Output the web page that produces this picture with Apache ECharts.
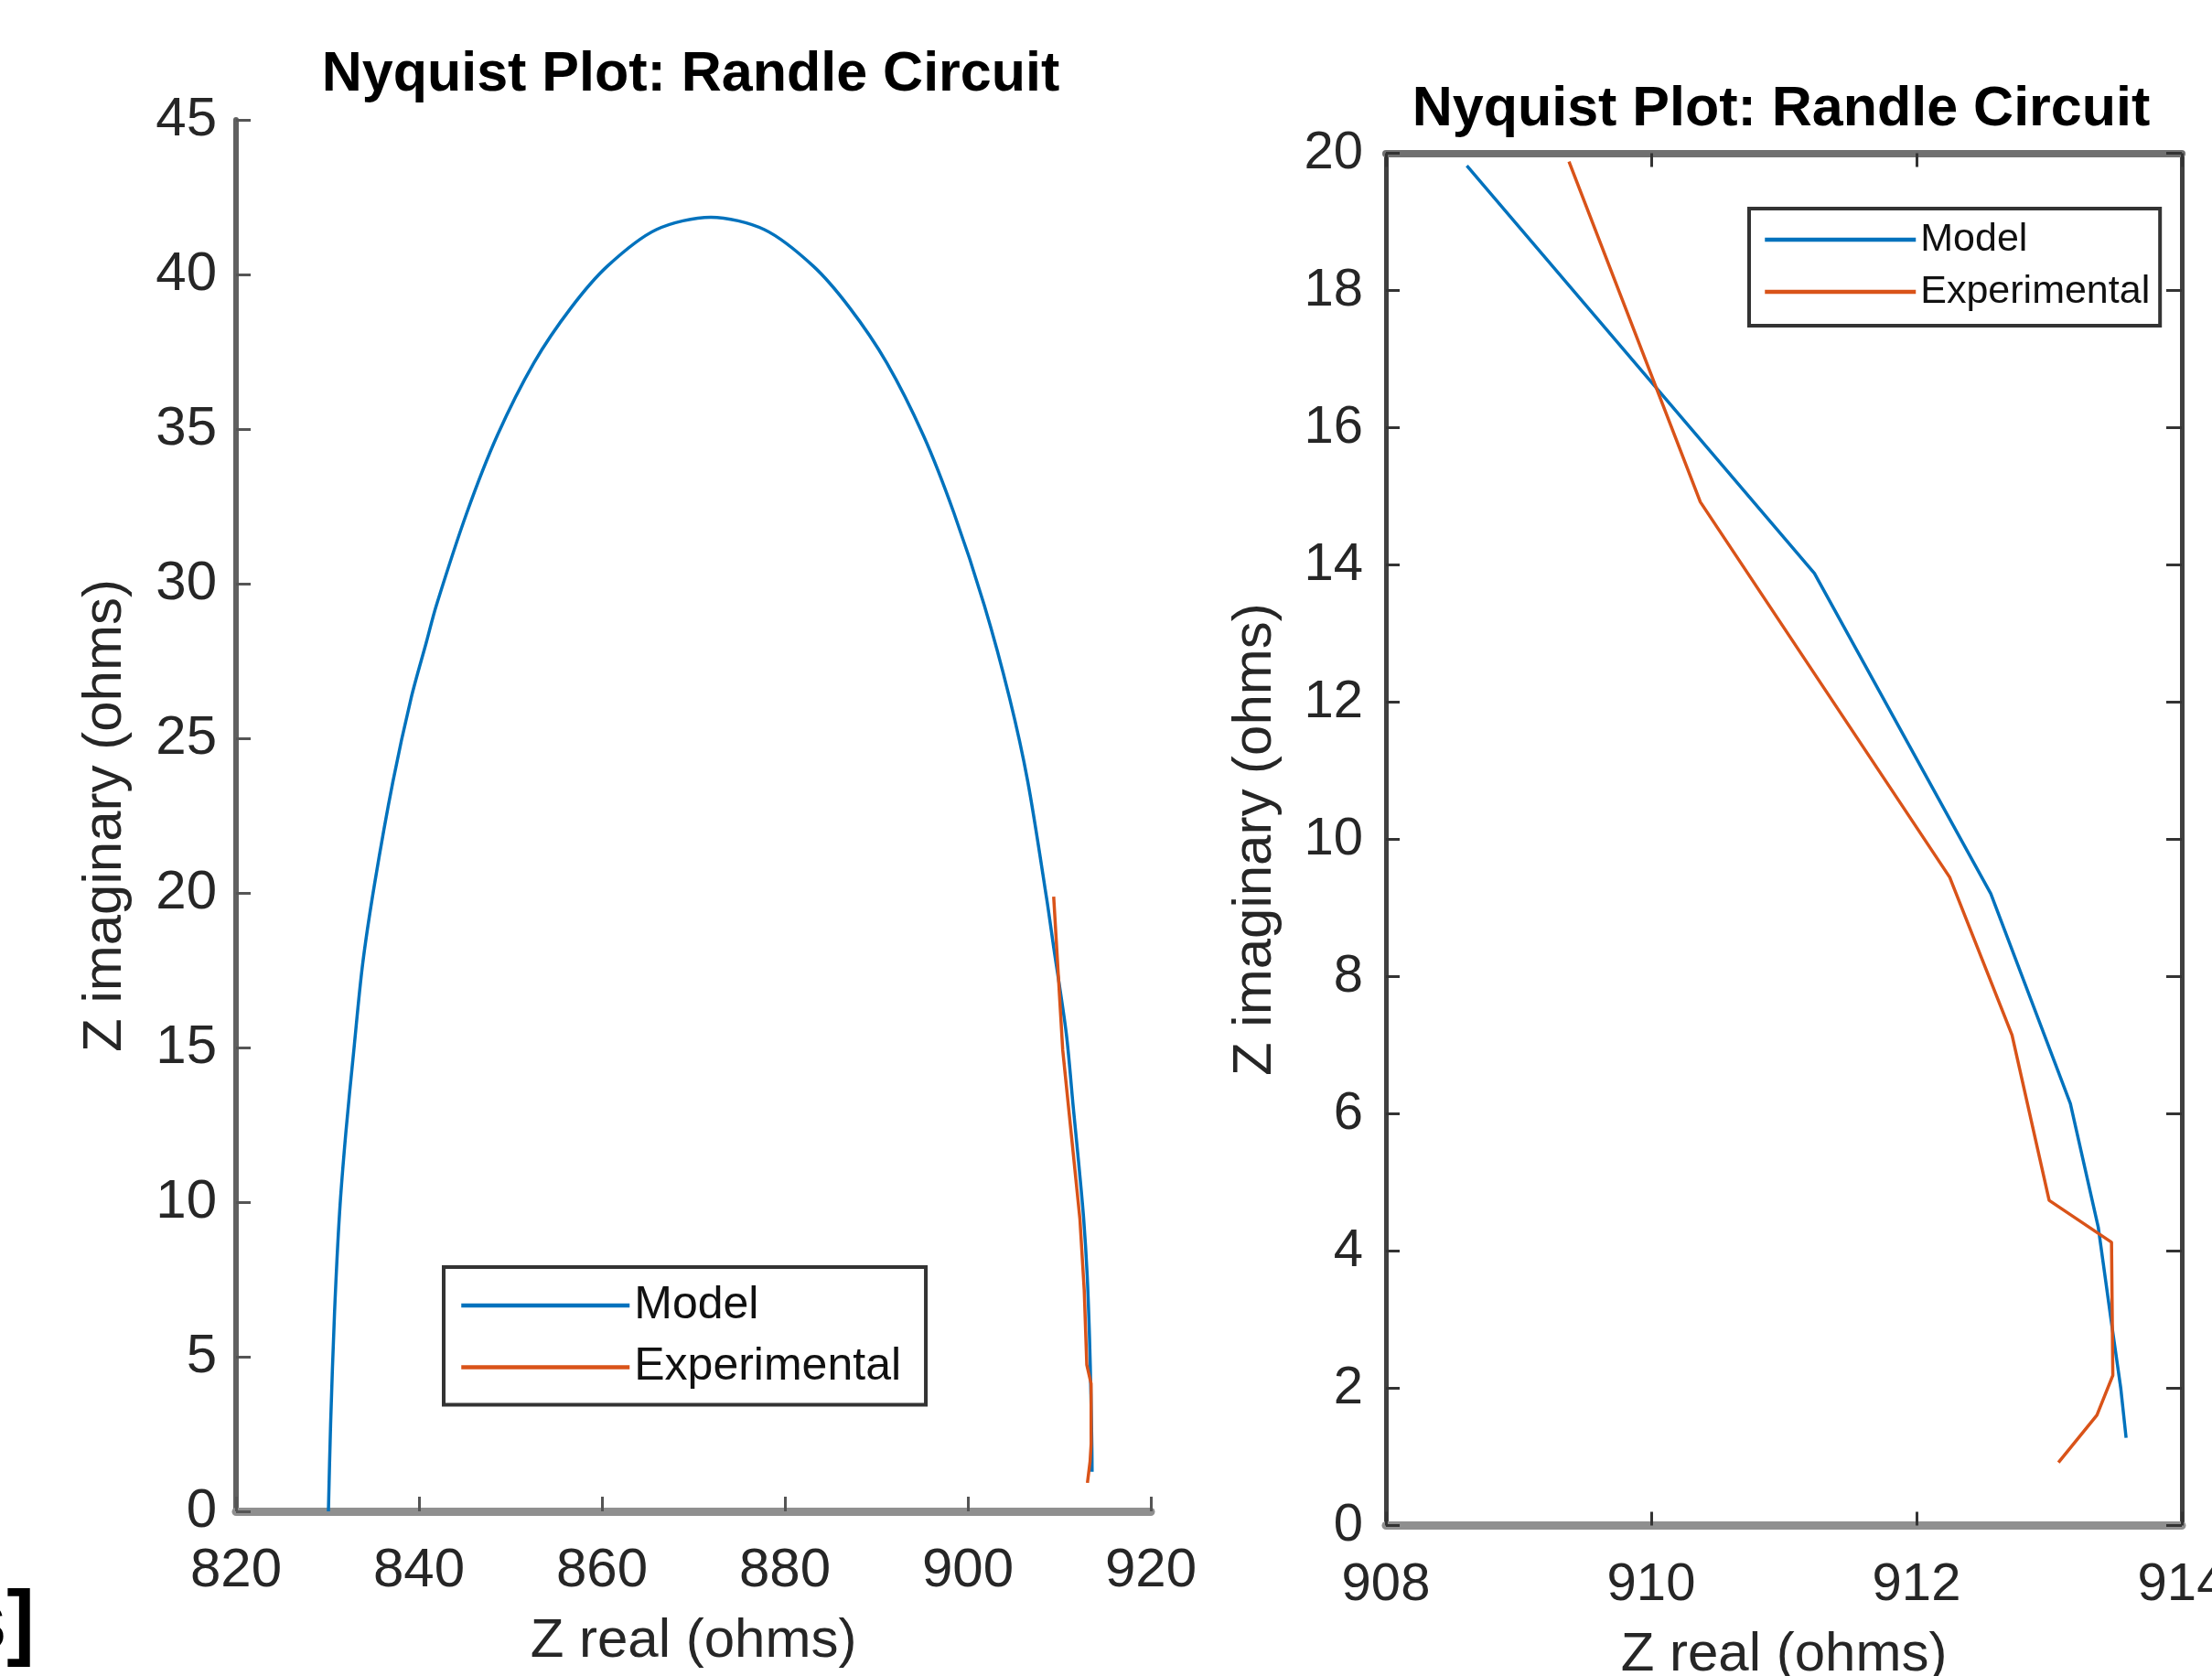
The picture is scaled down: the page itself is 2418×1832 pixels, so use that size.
<!DOCTYPE html>
<html>
<head>
<meta charset="utf-8">
<script src="https://cdn.jsdelivr.net/npm/echarts@6/dist/echarts.min.js"></script>
<style>
html,body{margin:0;padding:0;background:#fff;}
#chart{width:2418px;height:1832px;}
</style>
</head>
<body>
<div id="chart"></div>
<script>
// ---- Data ----
const titleText = 'Nyquist Plot: Randle Circuit';
const xName = 'Z real (ohms)';
const yName = 'Z imaginary (ohms)';
const seriesNames = ['Model', 'Experimental'];

// Left panel: full model semicircle
const modelRe = [830.10, 830.34, 830.77, 831.33, 832.00, 832.83, 833.83, 835.15, 837.15, 839.14,
  840.80, 841.90, 845.24, 848.57, 852.58, 856.59, 860.60, 865.94, 871.90, 877.76,
  883.10, 887.11, 891.12, 895.13, 898.46, 901.80, 904.56, 906.55, 908.61,
  909.40, 910.76, 911.53, 912.09, 912.65, 913.04, 913.30, 913.45, 913.55, 913.58];
const modelIm = [0.00, 2.81, 6.43, 9.70, 12.23, 14.77, 17.67, 20.30, 23.60, 26.30,
  28.10, 29.30, 32.30, 34.80, 37.15, 38.91, 40.27, 41.45, 41.85, 41.45,
  40.27, 38.91, 37.15, 34.80, 32.30, 29.30, 26.30, 23.60, 19.82,
  18.20, 15.45, 13.04, 11.34, 9.50, 7.66, 5.60, 3.80, 2.20, 1.28];

// Right panel: model points in the zoomed window
const zoomModelRe = [908.61, 911.23, 912.56, 913.16, 913.37, 913.47, 913.54, 913.58];
const zoomModelIm = [19.82, 13.88, 9.21, 6.15, 4.35, 2.95, 2.00, 1.28];

// Experimental data (both panels)
const expRe = [909.38, 910.37, 912.25, 912.72, 913.00, 913.47, 913.48, 913.36, 913.07];
const expIm = [19.88, 14.92, 9.45, 7.15, 4.74, 4.13, 2.19, 1.61, 0.92];

// Axis ranges / ticks
const leftX = {min: 820, max: 920, interval: 20};
const leftY = {min: 0, max: 45, interval: 5};
const rightX = {min: 908, max: 914, interval: 2};
const rightY = {min: 0, max: 20, interval: 2};

// ---- Chart ----
const zip = (a, b) => a.map((v, i) => [v, b[i]]);
const FONT = '"Liberation Sans", Arial, Helvetica, sans-serif';
const BLUE = '#0072BD';
const ORANGE = '#D95319';
const TXT = '#262626';

function xAxisCfg(grid, rng, opts) {
  return Object.assign({
    gridIndex: grid, type: 'value', min: rng.min, max: rng.max, interval: rng.interval,
    position: 'bottom',
    axisLine: {show: true, onZero: false, lineStyle: {color: '#8f8f8f', width: 9}},
    axisTick: {show: true, inside: true, length: 16, lineStyle: {color: '#555', width: 3}},
    axisLabel: {show: true, margin: 35, fontSize: 60, color: TXT, fontFamily: FONT},
    splitLine: {show: false}
  }, opts);
}
function yAxisCfg(grid, rng, opts) {
  return Object.assign({
    gridIndex: grid, type: 'value', min: rng.min, max: rng.max, interval: rng.interval,
    position: 'left',
    axisLine: {show: true, onZero: false, lineStyle: {color: '#606060', width: 6}},
    axisTick: {show: true, inside: true, length: 16, lineStyle: {color: '#555', width: 3}},
    axisLabel: {show: true, margin: 21, fontSize: 60, color: TXT, fontFamily: FONT},
    splitLine: {show: false}
  }, opts);
}
const nameStyle = {fontSize: 60, color: TXT, fontFamily: FONT};
const legendCommon = {
  orient: 'vertical', selectedMode: false, data: seriesNames,
  backgroundColor: '#fff', borderColor: '#333', borderWidth: 4, borderRadius: 0,
  itemStyle: {opacity: 0, borderWidth: 0},
  lineStyle: {width: 4.5}
};

const chart = echarts.init(document.getElementById('chart'), null, {renderer: 'canvas'});
const option = {
  animation: false,
  backgroundColor: '#ffffff',
  title: [
    {text: titleText, left: 755, top: 82, textAlign: 'center', textVerticalAlign: 'middle', padding: 0,
     textStyle: {fontFamily: FONT, fontSize: 61, fontWeight: 'bold', color: '#000'}},
    {text: titleText, left: 1947, top: 120, textAlign: 'center', textVerticalAlign: 'middle', padding: 0,
     textStyle: {fontFamily: FONT, fontSize: 61, fontWeight: 'bold', color: '#000'}}
  ],
  grid: [
    {left: 258, top: 131, width: 1000, height: 1521, outerBoundsMode: 'none', containLabel: false},
    {left: 1515, top: 167.6, width: 870, height: 1500, outerBoundsMode: 'none', containLabel: false}
  ],
  xAxis: [
    xAxisCfg(0, leftX, {name: xName, nameLocation: 'middle', nameGap: 112, nameTextStyle: nameStyle}),
    xAxisCfg(1, rightX, {name: xName, nameLocation: 'middle', nameGap: 112, nameTextStyle: nameStyle,
      axisLabel: {show: true, margin: 36, fontSize: 58, color: TXT, fontFamily: FONT},
      axisTick: {show: true, inside: true, length: 15, lineStyle: {color: '#333', width: 3}}}),
    xAxisCfg(1, rightX, {position: 'top', axisLabel: {show: false},
      axisLine: {show: true, onZero: false, lineStyle: {color: '#707070', width: 8}},
      axisTick: {show: true, inside: true, length: 15, lineStyle: {color: '#333', width: 3}}})
  ],
  yAxis: [
    yAxisCfg(0, leftY, {name: yName, nameLocation: 'middle', nameGap: 113, nameRotate: 90, nameTextStyle: nameStyle}),
    yAxisCfg(1, rightY, {name: yName, nameLocation: 'middle', nameGap: 113, nameRotate: 90, nameTextStyle: nameStyle,
      axisLine: {show: true, onZero: false, lineStyle: {color: '#404040', width: 5}},
      axisLabel: {show: true, margin: 25, fontSize: 58, color: TXT, fontFamily: FONT},
      axisTick: {show: true, inside: true, length: 15, lineStyle: {color: '#333', width: 3}}}),
    yAxisCfg(1, rightY, {position: 'right', axisLabel: {show: false},
      axisLine: {show: true, onZero: false, lineStyle: {color: '#404040', width: 5}},
      axisTick: {show: true, inside: true, length: 17, lineStyle: {color: '#333', width: 3}}})
  ],
  legend: [
    Object.assign({}, legendCommon, {left: 485, top: 1385, padding: [17, 27, 16, 17],
      itemWidth: 184, itemHeight: 50, itemGap: 17.5,
      textStyle: {fontSize: 50, color: '#111', fontFamily: FONT}}),
    Object.assign({}, legendCommon, {left: 1912, top: 228, padding: [12.5, 11, 15.5, 15],
      itemWidth: 165, itemHeight: 43, itemGap: 14,
      textStyle: {fontSize: 43, color: '#111', fontFamily: FONT}})
  ],
  graphic: [
    {type: 'text', x: 38, y: 1778, z: 100,
     style: {text: 's]', font: 'bold 92px ' + FONT, fill: '#000',
       textAlign: 'right', textVerticalAlign: 'middle', align: 'right', verticalAlign: 'middle'}}
  ],
  series: [
    {name: seriesNames[0], type: 'line', xAxisIndex: 0, yAxisIndex: 0, data: zip(modelRe, modelIm),
     symbol: 'none', smooth: 0.3, lineStyle: {color: BLUE, width: 3.5}, itemStyle: {color: BLUE}},
    {name: seriesNames[1], type: 'line', xAxisIndex: 0, yAxisIndex: 0, data: zip(expRe, expIm),
     symbol: 'none', smooth: false, lineStyle: {color: ORANGE, width: 3.5}, itemStyle: {color: ORANGE}},
    {name: seriesNames[0], type: 'line', xAxisIndex: 1, yAxisIndex: 1, data: zip(zoomModelRe, zoomModelIm),
     symbol: 'none', smooth: false, lineStyle: {color: BLUE, width: 3.5}, itemStyle: {color: BLUE}},
    {name: seriesNames[1], type: 'line', xAxisIndex: 1, yAxisIndex: 1, data: zip(expRe, expIm),
     symbol: 'none', smooth: false, lineStyle: {color: ORANGE, width: 3.5}, itemStyle: {color: ORANGE}}
  ]
};
chart.setOption(option);
</script>
</body>
</html>
